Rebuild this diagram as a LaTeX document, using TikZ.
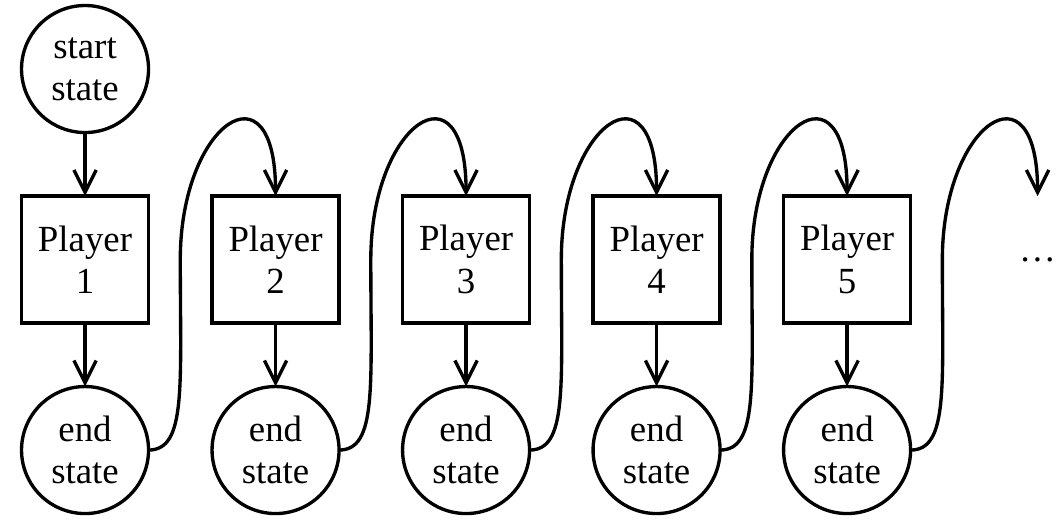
\documentclass[tikz,border=0pt]{standalone}
\usepackage{fontspec}
\setmainfont{Liberation Serif}
\usetikzlibrary{positioning, calc, arrows.meta}

\begin{document}
\begin{tikzpicture}
    [node distance=1cm,
    every node/.style={font=\fontsize{16.5}{19}\selectfont, align=center},
    roundnode/.style={circle, draw=black, line width=1.5pt, minimum size=2cm, inner sep=0pt, outer sep=0pt},
    squarednode/.style={rectangle, draw=black, line width=1.5pt, minimum size=2cm, inner sep=0pt, outer sep=0pt},
    blanknode/.style={rectangle, minimum size=2cm, inner sep=0pt, outer sep=0pt},
    arr/.style={line width=1.5pt, -{Straight Barb[length=10pt, width=10pt]}}]

    \useasboundingbox (-1.339,-4.087) rectangle (15.40,4.087);

    %Nodes
    \node[squarednode](P1){Player\\1};
    \node[roundnode](start)[above=of P1]{start\\state};
    \node[squarednode](P2)[right=of P1]{Player\\2};
    \node[squarednode](P3)[right=of P2]{Player\\3};
    \node[squarednode](P4)[right=of P3]{Player\\4};
    \node[squarednode](P5)[right=of P4]{Player\\5};
    \node[blanknode](dots)[right=of P5]{\dots};

    \node[roundnode](E1)[below=of P1]{end\\state};
    \node[roundnode](E2)[below=of P2]{end\\state};
    \node[roundnode](E3)[below=of P3]{end\\state};
    \node[roundnode](E4)[below=of P4]{end\\state};
    \node[roundnode](E5)[below=of P5]{end\\state};

    \coordinate(m1) at ($(P1.east)!0.5!(P2.west)$);
    \coordinate(m2) at ($(P2.east)!0.5!(P3.west)$);
    \coordinate(m3) at ($(P3.east)!0.5!(P4.west)$);
    \coordinate(m4) at ($(P4.east)!0.5!(P5.west)$);
    \coordinate(m5) at ($(P5.east)!0.5!(dots.west)$);

    %Lines
    \draw[arr](start)--(P1);
    \draw[arr](P1)--(E1);
    \draw[arr](P2)--(E2);
    \draw[arr](P3)--(E3);
    \draw[arr](P4)--(E4);
    \draw[arr](P5)--(E5);

    \draw[arr](E1.east) .. controls +(0.6,0) and +(0,-2) .. (m1)
        .. controls +(0,2.15) and +(0,2.15) .. (P2.north);
    \draw[arr](E2.east) .. controls +(0.6,0) and +(0,-2) .. (m2)
        .. controls +(0,2.15) and +(0,2.15) .. (P3.north);
    \draw[arr](E3.east) .. controls +(0.6,0) and +(0,-2) .. (m3)
        .. controls +(0,2.15) and +(0,2.15) .. (P4.north);
    \draw[arr](E4.east) .. controls +(0.6,0) and +(0,-2) .. (m4)
        .. controls +(0,2.15) and +(0,2.15) .. (P5.north);
    \draw[arr](E5.east) .. controls +(0.6,0) and +(0,-2) .. (m5)
        .. controls +(0,2.15) and +(0,2.15) .. (dots.north);
\end{tikzpicture}
\end{document}
